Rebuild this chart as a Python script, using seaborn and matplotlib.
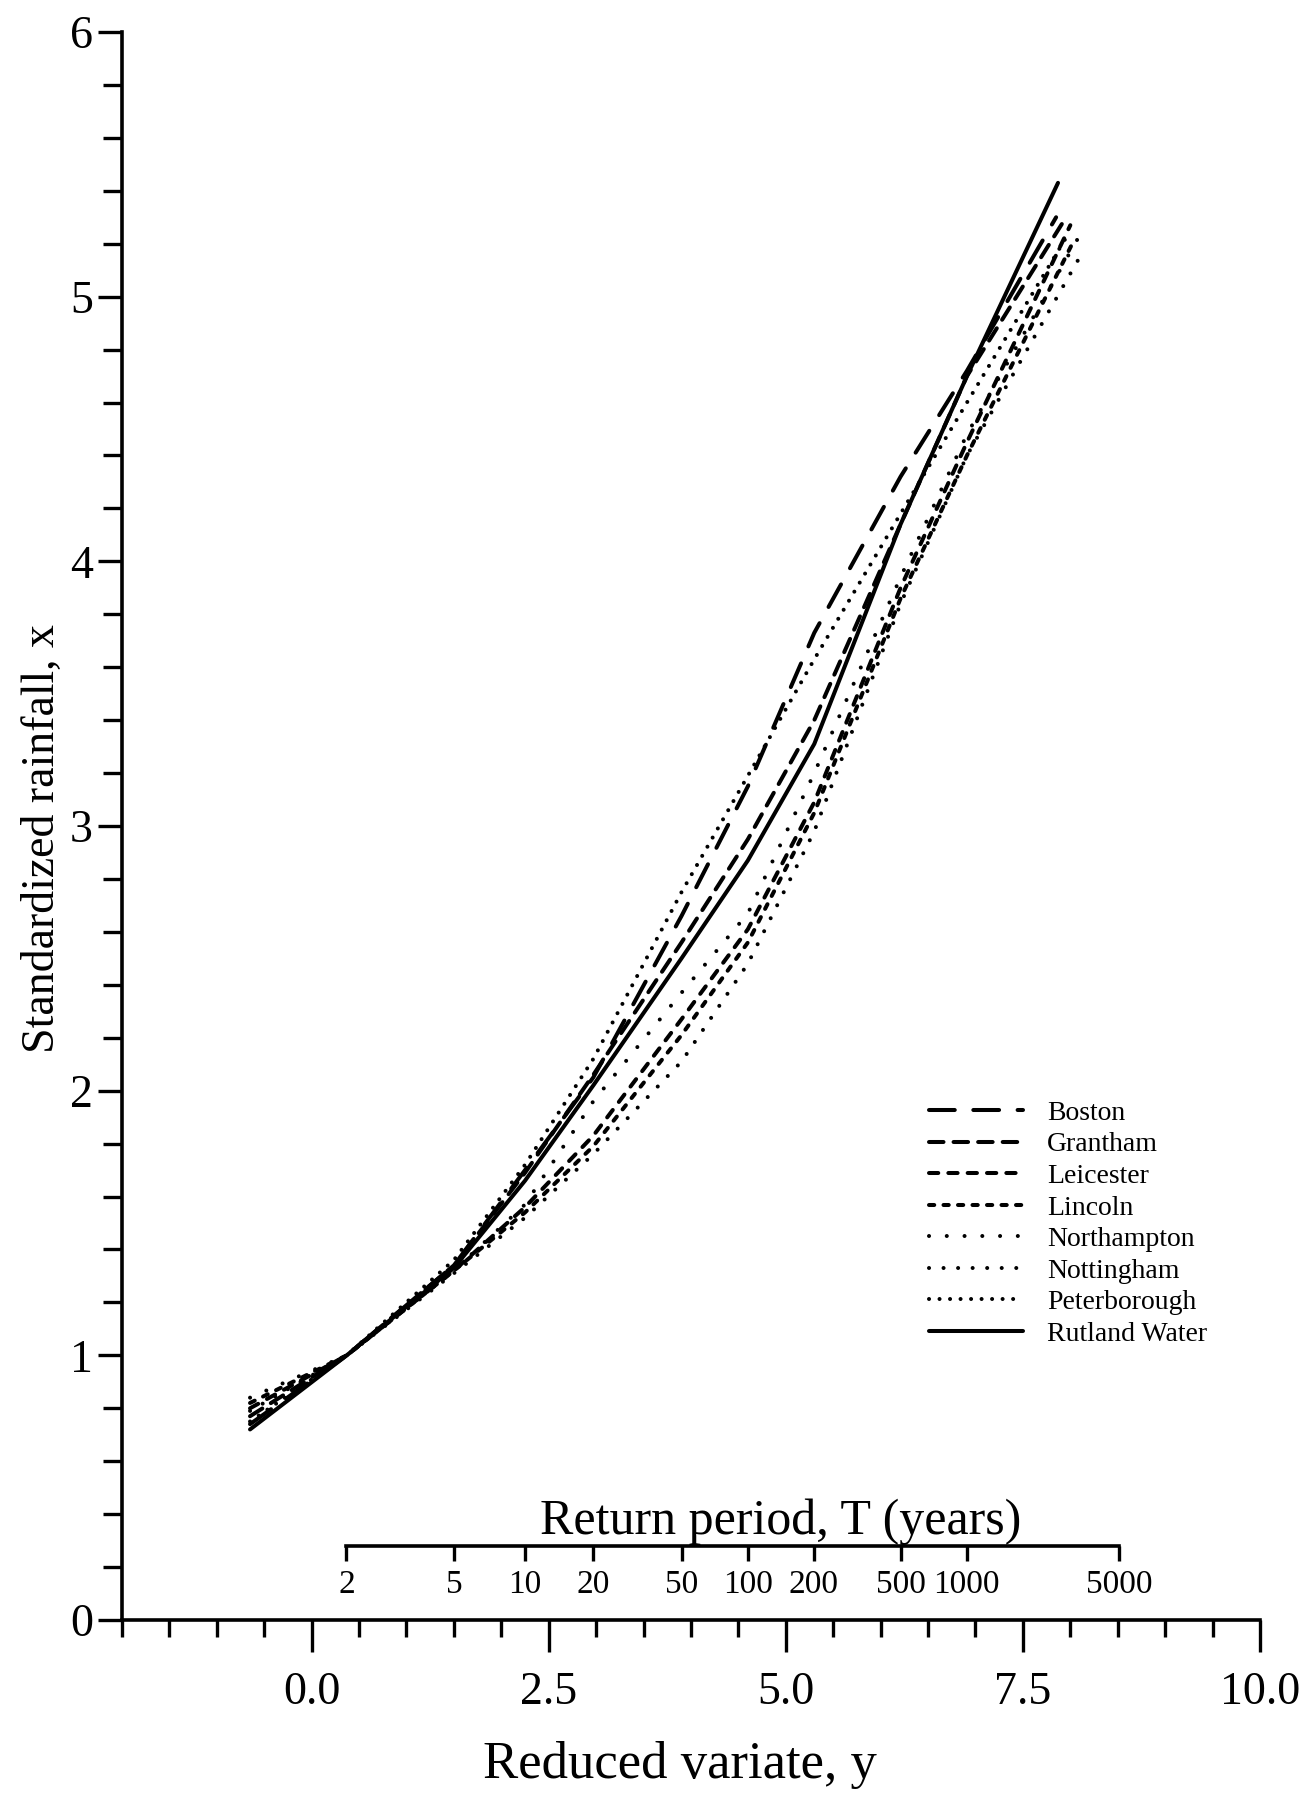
import numpy as np
import pandas as pd
import matplotlib
matplotlib.use("Agg")
import matplotlib.pyplot as plt
from matplotlib.ticker import MultipleLocator, FormatStrFormatter, NullLocator
import seaborn as sns

# Growth curves of standardized annual maximum rainfall (x) against the
# Gumbel reduced variate (y) for eight stations.
stations = ["Boston", "Grantham", "Leicester", "Lincoln",
            "Northampton", "Nottingham", "Peterborough", "Rutland Water"]

reduced_variate = [-0.65, 0.37, 1.50, 2.25, 2.97, 3.90, 4.60, 5.30, 6.21, 6.91]

boston       = [0.74, 1.00, 1.34, 1.70, 2.05, 2.66, 3.15, 3.73, 4.32, 4.72]
grantham     = [0.77, 1.00, 1.34, 1.69, 2.06, 2.56, 2.95, 3.40, 4.14, 4.70]
leicester    = [0.80, 1.00, 1.32, 1.56, 1.83, 2.27, 2.61, 3.09, 3.90, 4.45]
lincoln      = [0.82, 1.00, 1.32, 1.54, 1.79, 2.21, 2.56, 3.05, 3.86, 4.40]
northampton  = [0.84, 1.00, 1.32, 1.57, 1.96, 2.37, 2.67, 3.20, 3.94, 4.48]
nottingham   = [0.79, 1.00, 1.31, 1.52, 1.76, 2.11, 2.48, 2.98, 3.84, 4.40]
peterborough = [0.75, 1.00, 1.36, 1.72, 2.12, 2.75, 3.19, 3.63, 4.18, 4.60]
rutland      = [0.72, 1.00, 1.33, 1.66, 2.02, 2.50, 2.87, 3.31, 4.14, 4.70]

# last point of each curve (reduced variate, standardized rainfall)
end_variate  = [7.85, 7.92, 8.00, 8.02, 8.08, 8.10, 7.95, 7.87]
end_rainfall = [5.30, 5.28, 5.27, 5.20, 5.22, 5.15, 5.22, 5.43]

return_periods = [2, 5, 10, 20, 50, 100, 200, 500, 1000, 5000]

series = [boston, grantham, leicester, lincoln,
          northampton, nottingham, peterborough, rutland]

rows = []
for name, vals, ev, er in zip(stations, series, end_variate, end_rainfall):
    for v, r in zip(reduced_variate + [ev], vals + [er]):
        rows.append({"station": name, "variate": v, "rainfall": r})
df = pd.DataFrame(rows)

# dash patterns in units of line width (round caps)
dash_map = {
    "Boston": (6.4, 4.6),
    "Grantham": (3.6, 2.5),
    "Leicester": (2.3, 2.5),
    "Lincoln": (1.3, 2.3),
    "Northampton": (0.01, 4.4),
    "Nottingham": (0.01, 3.6),
    "Peterborough": (0.01, 2.6),
    "Rutland Water": "",
}

sns.set_theme(style="ticks")
plt.rcParams["font.family"] = ["Liberation Serif", "DejaVu Serif"]
plt.rcParams.update({
    "axes.linewidth": 2.6,
    "axes.edgecolor": "black",
    "axes.labelcolor": "black",
    "text.color": "black",
    "xtick.color": "black",
    "ytick.color": "black",
})

fig = plt.figure(figsize=(13.13, 17.94), dpi=100)
ax = fig.add_axes([122 / 1313, 174 / 1794, 1138 / 1313, 1588 / 1794])

sns.lineplot(data=df, x="variate", y="rainfall", style="station",
             style_order=stations, dashes=dash_map, color="black",
             linewidth=2.9, sort=False, estimator=None, ax=ax,
             dash_capstyle="round", solid_capstyle="round")

ax.set_xlim(-2, 10)
ax.set_ylim(0, 6)
sns.despine(ax=ax)

ax.set_xticks([0, 2.5, 5, 7.5, 10])
ax.xaxis.set_major_formatter(FormatStrFormatter("%.1f"))
ax.xaxis.set_minor_locator(MultipleLocator(0.5))
ax.yaxis.set_major_locator(MultipleLocator(1))
ax.yaxis.set_minor_locator(MultipleLocator(0.2))

ax.tick_params(axis="x", which="major", direction="out", length=23,
               width=2.4, labelsize=33, pad=14)
ax.tick_params(axis="x", which="minor", direction="out", length=12,
               width=2.4)
ax.tick_params(axis="y", which="major", direction="out", length=17,
               width=2.4, labelsize=33, pad=4)
ax.tick_params(axis="y", which="minor", direction="out", length=14,
               width=2.4)

ax.set_xlabel("Reduced variate, y", fontsize=38)
ax.xaxis.set_label_coords(0.490, -0.076)
ax.set_ylabel("Standardized rainfall, x", fontsize=33)
ax.yaxis.set_label_coords(-0.0512, 0.492)

# return-period scale drawn just above the reduced-variate axis
def gumbel(T):
    T = np.asarray(T, dtype=float)
    return -np.log(-np.log(1.0 - 1.0 / T))

sec = ax.secondary_xaxis(0.28 / 6)
sec.set_ticks(gumbel(return_periods), labels=[str(t) for t in return_periods])
sec.xaxis.set_minor_locator(NullLocator())
sec.spines["bottom"].set_bounds(gumbel(return_periods[0]), gumbel(return_periods[-1]))
sec.spines["bottom"].set_linewidth(2.6)
sec.tick_params(axis="x", direction="out", length=11, width=2.4,
                labelsize=24, pad=6)
sec.set_xlabel("Return period, T (years)", fontsize=36)
sec.xaxis.set_label_position("top")
sec.xaxis.set_label_coords(0.579, 0.054, transform=ax.transAxes)

sns.move_legend(ax, loc="upper left", bbox_to_anchor=(929 / 1313, 0.3866),
                bbox_transform=fig.transFigure, title=None, frameon=False,
                fontsize=20, handlelength=3.4, handletextpad=0.85,
                labelspacing=0.22, borderpad=0, borderaxespad=0)
leg = ax.get_legend()
for h in leg.legend_handles:
    h.set_linewidth(2.9)
    h.set_dash_capstyle("round")

fig.savefig("out.png", dpi=100, facecolor="white")
